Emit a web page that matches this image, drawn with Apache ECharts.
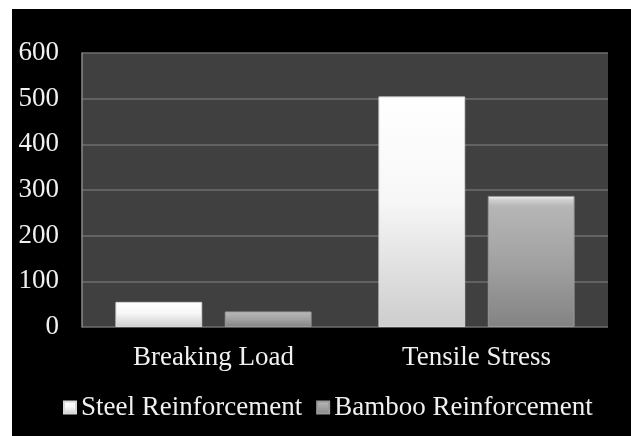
<!DOCTYPE html>
<html>
<head>
<meta charset="utf-8">
<script src="https://cdn.jsdelivr.net/npm/echarts@6/dist/echarts.min.js"></script>
<style>
  html, body { margin: 0; padding: 0; background: #ffffff; }
  #chart { position: absolute; left: 12px; top: 9px; width: 619px; height: 427px; background: #000000; }
</style>
</head>
<body>
<div id="chart"></div>
<script>
// Categories and series values
const categories = ['Breaking Load', 'Tensile Stress'];
const steelValues = [55, 505];
const bambooValues = [34, 287];
const seriesNames = ['Steel Reinforcement', 'Bamboo Reinforcement'];
const yTicks = { min: 0, max: 600, step: 100 };

const FONT = 'Liberation Serif';
const TEXT = '#f0f0f0';

function vGrad(stops) {
  return new echarts.graphic.LinearGradient(0, 0, 0, 1,
    stops.map(function (s) { return { offset: s[0], color: s[1] }; }));
}

// Soft bevelled fills: bright top edge fading down the bar
const steelFill = vGrad([[0, '#ffffff'], [0.45, '#f7f7f7'], [1, '#cdcdcd']]);
const bambooFill = vGrad([[0, '#f2f2f2'], [0.03, '#cfcfcf'], [0.08, '#b6b6b6'], [0.5, '#a2a2a2'], [1, '#838383']]);

const chart = echarts.init(document.getElementById('chart'));
chart.setOption({
  backgroundColor: '#000000',
  animation: false,
  grid: {
    left: 70, right: 23, top: 44, bottom: 109,
    show: true, backgroundColor: '#404040', borderWidth: 0
  },
  legend: {
    data: seriesNames,
    left: 46, top: 380,
    icon: 'rect', itemWidth: 12, itemHeight: 12, itemGap: 14,
    textStyle: { fontFamily: FONT, fontSize: 27, color: TEXT }
  },
  xAxis: {
    type: 'category',
    data: categories,
    axisLine: { show: false },
    axisTick: { show: false },
    axisLabel: { fontFamily: FONT, fontSize: 27, color: TEXT, margin: 17 }
  },
  yAxis: {
    type: 'value',
    min: yTicks.min, max: yTicks.max, interval: yTicks.step,
    axisLine: { show: true, lineStyle: { color: '#8a8a8a', width: 1.5 } },
    axisTick: { show: false },
    splitLine: { lineStyle: { color: '#6e6e6e', width: 1.5 } },
    axisLabel: { fontFamily: FONT, fontSize: 27, color: TEXT, margin: 23 }
  },
  series: [
    {
      name: seriesNames[0], type: 'bar', data: steelValues,
      barWidth: '33%', barGap: '26%',
      itemStyle: { color: steelFill, borderColor: '#d8d8d8', borderWidth: 1 }
    },
    {
      name: seriesNames[1], type: 'bar', data: bambooValues,
      barWidth: '33%', barGap: '26%',
      itemStyle: { color: bambooFill, borderColor: '#9a9a9a', borderWidth: 1 }
    }
  ]
});
</script>
</body>
</html>
